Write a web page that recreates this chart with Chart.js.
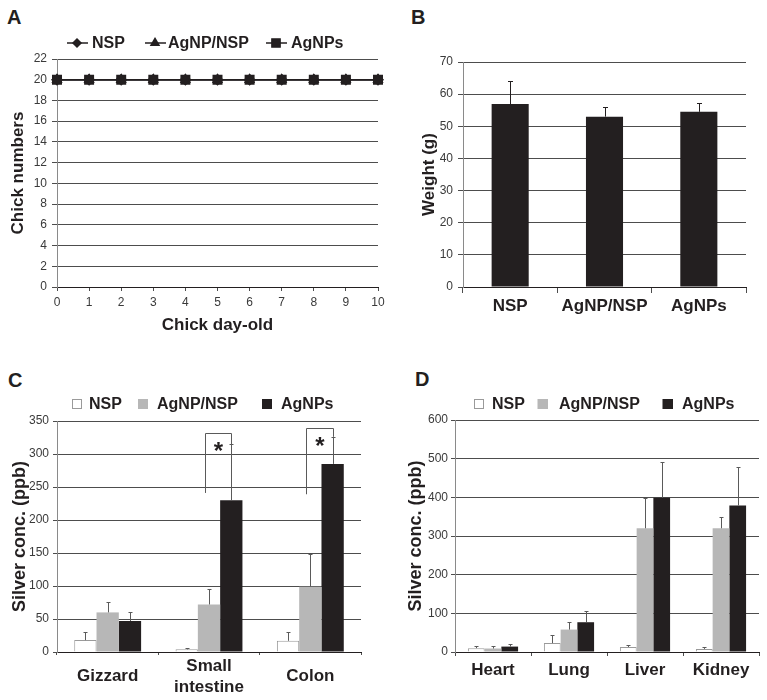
<!DOCTYPE html>
<html><head><meta charset="utf-8">
<script src="https://cdn.jsdelivr.net/npm/chart.js@4"></script>
<style>
body{margin:0;background:#fff;width:767px;height:700px;position:relative;overflow:hidden;font-family:"Liberation Sans",Arial,sans-serif}
canvas{position:absolute}
.lbl{position:absolute;font:bold 20px/20px "Liberation Sans",Arial,sans-serif;color:#231f20}
</style></head><body>
<div class="lbl" style="left:7px;top:7px">A</div>
<div class="lbl" style="left:411px;top:7px">B</div>
<div class="lbl" style="left:8px;top:370px">C</div>
<div class="lbl" style="left:415px;top:369px">D</div>
<canvas id="cA" width="390" height="340" style="left:0;top:0"></canvas>
<canvas id="cB" width="377" height="340" style="left:390px;top:0"></canvas>
<canvas id="cC" width="390" height="360" style="left:0;top:340px"></canvas>
<canvas id="cD" width="377" height="360" style="left:390px;top:340px"></canvas>
<script>
// ---------- data ----------
const seriesNames = ['NSP', 'AgNP/NSP', 'AgNPs'];

// Panel A: chick numbers by day
const days = ['0','1','2','3','4','5','6','7','8','9','10'];
const chicksNSP      = [20,20,20,20,20,20,20,20,20,20,20];
const chicksAgNPNSP  = [20,20,20,20,20,20,20,20,20,20,20];
const chicksAgNPs    = [20,20,20,20,20,20,20,20,20,20,20];
const chickTicksMax = 22;

// Panel B: weight (g)
const weightGroups = ['NSP', 'AgNP/NSP', 'AgNPs'];
const weightMean = [56.9, 53.0, 54.5];
const weightErr  = [7.2, 3.1, 2.7];

// Panel C: GI tract silver (ppb)
const giOrgans = ['Gizzard', ['Small', 'intestine'], 'Colon'];
const giNSP        = [18, 4, 17];
const giNSPErr     = [12, 2, 14];
const giAgNPNSP    = [60, 72, 99];
const giAgNPNSPErr = [16, 24, 49];
const giAgNPs      = [47, 230, 285];
const giAgNPsErr   = [14, 85, 41];
// significance brackets (category index, top value, left leg bottom value)
const sigOrgans     = [1, 2];
const sigTop        = [332, 339];
const sigLeftBottom = [241, 239];
const sigMark = '*';

// Panel D: other organs silver (ppb)
const organs = ['Heart', 'Lung', 'Liver', 'Kidney'];
const orgNSP        = [10, 23, 13, 8];
const orgNSPErr     = [6, 20, 4, 5];
const orgAgNPNSP    = [9, 58, 320, 320];
const orgAgNPNSPErr = [6, 20, 78, 30];
const orgAgNPs      = [14, 77, 399, 379];
const orgAgNPsErr   = [7, 30, 92, 100];

// ---------- styles ----------
const FONT = '"Liberation Sans", Arial, sans-serif';
const INK = '#231f20';
const GREY = '#b7b7b7';
const GRID = '#4d4d4d';
const TICK = '#3a3a3a';
Chart.defaults.font.family = FONT;
Chart.defaults.color = TICK;

// ---------- plugins ----------
const errorBars = {
  id: 'errorBars',
  afterDatasetsDraw(chart, args, opts) {
    const ctx = chart.ctx, ys = chart.scales.y;
    chart.data.datasets.forEach((ds, di) => {
      if (!ds.errors) return;
      const meta = chart.getDatasetMeta(di);
      meta.data.forEach((bar, i) => {
        const v = ds.data[i], e = ds.errors[i];
        const y0 = ys.getPixelForValue(v), y1 = Math.round(ys.getPixelForValue(v + e)) + 0.5;
        const x = Math.round(bar.x) + 0.5;
        ctx.save();
        ctx.strokeStyle = opts.color; ctx.lineWidth = opts.width;
        ctx.beginPath();
        ctx.moveTo(x, y0); ctx.lineTo(x, y1);
        ctx.moveTo(x - opts.cap, y1); ctx.lineTo(x + opts.cap, y1);
        ctx.stroke();
        ctx.restore();
      });
    });
  }
};

const refLegend = {
  id: 'refLegend',
  afterDraw(chart, args, opts) {
    const ctx = chart.ctx;
    ctx.save();
    chart.data.datasets.forEach((ds, i) => {
      const x = opts.xs[i], y = opts.y;
      if (opts.kind === 'line') {
        ctx.strokeStyle = ds.borderColor; ctx.lineWidth = 1.5;
        ctx.beginPath(); ctx.moveTo(x - 10, y); ctx.lineTo(x + 11, y); ctx.stroke();
        ctx.fillStyle = ds.pointBackgroundColor;
        ctx.strokeStyle = ds.pointBorderColor;
        Chart.helpers.drawPoint(ctx, {pointStyle: ds.pointStyle, radius: opts.radius[i], rotation: 0, borderWidth: 1}, x, y);
      } else {
        const s = opts.box;
        ctx.fillStyle = ds.backgroundColor;
        ctx.fillRect(x - s / 2, y - s / 2, s, s);
        ctx.strokeStyle = ds.borderColor; ctx.lineWidth = 1;
        ctx.strokeRect(Math.round(x - s / 2) + 0.5, Math.round(y - s / 2) + 0.5, s - 1, s - 1);
      }
      ctx.fillStyle = INK;
      ctx.font = 'bold 16px ' + FONT;
      ctx.textBaseline = 'middle';
      ctx.textAlign = 'left';
      ctx.fillText(ds.label, opts.tx[i], y + 1);
    });
    ctx.restore();
  }
};

const brackets = {
  id: 'brackets',
  afterDatasetsDraw(chart, args, opts) {
    const ctx = chart.ctx, ys = chart.scales.y;
    const grey = chart.getDatasetMeta(1).data, black = chart.getDatasetMeta(2).data;
    const blackDs = chart.data.datasets[2];
    ctx.save();
    ctx.strokeStyle = opts.color; ctx.lineWidth = 1;
    sigOrgans.forEach((c, k) => {
      const xl = Math.round(grey[c].x - opts.legShift) + 0.5;
      const xr = Math.round(black[c].x) + 0.5;
      const yt = Math.round(ys.getPixelForValue(sigTop[k])) + 0.5;
      const yl = ys.getPixelForValue(sigLeftBottom[k]);
      const yr = ys.getPixelForValue(blackDs.data[c] + blackDs.errors[c]);
      ctx.beginPath();
      ctx.moveTo(xl, yl); ctx.lineTo(xl, yt); ctx.lineTo(xr, yt); ctx.lineTo(xr, yr);
      ctx.stroke();
      ctx.fillStyle = INK;
      ctx.font = 'bold 24px ' + FONT;
      ctx.textAlign = 'center'; ctx.textBaseline = 'alphabetic';
      ctx.fillText(sigMark, (xl + xr) / 2, yt + opts.markDrop);
    });
    ctx.restore();
  }
};

function yAxis(max, step, width, title, titleSize, titlePad, tl, pad) {
  return {
    min: 0, max: max,
    ticks: {stepSize: step, font: {size: 12}, color: TICK, padding: pad},
    grid: {color: GRID, lineWidth: 1, tickLength: tl, drawTicks: true},
    border: {color: '#8a8a8a', width: 1},
    title: {display: true, text: title, color: INK, font: {size: titleSize, weight: 'bold'}, padding: {top: titlePad, bottom: 0}},
    afterFit(s) { s.width = width; }
  };
}

const common = {
  responsive: false, animation: false, devicePixelRatio: 1,
  events: []
};

// ---------- Panel A ----------
new Chart(document.getElementById('cA'), {
  type: 'line',
  data: {
    labels: days,
    datasets: [
      {label: seriesNames[0], data: chicksNSP, borderColor: INK, borderWidth: 1.5, pointStyle: 'rectRot', pointRadius: 5, pointBackgroundColor: INK, pointBorderColor: INK},
      {label: seriesNames[1], data: chicksAgNPNSP, borderColor: INK, borderWidth: 1.5, pointStyle: 'triangle', pointRadius: 5, pointBackgroundColor: INK, pointBorderColor: INK},
      {label: seriesNames[2], data: chicksAgNPs, borderColor: INK, borderWidth: 1.5, pointStyle: 'rect', pointRadius: 6, pointBackgroundColor: INK, pointBorderColor: INK}
    ]
  },
  options: Object.assign({}, common, {
    layout: {padding: {left: 0, right: 12, top: 59, bottom: 0}},
    plugins: {legend: {display: false}, tooltip: {enabled: false},
      refLegend: {kind: 'line', y: 43, xs: [77, 155, 276], tx: [92, 168, 291], radius: [4, 4.6, 5.8]}},
    scales: {
      x: {
        ticks: {font: {size: 12}, color: TICK, padding: 4, maxRotation: 0, autoSkip: false},
        grid: {drawOnChartArea: false, drawTicks: true, tickLength: 4, color: GRID},
        border: {color: INK, width: 1},
        title: {display: true, text: 'Chick day-old', color: INK, font: {size: 17, weight: 'bold'}, padding: {top: 0, bottom: 4}},
        afterFit(s) { s.height = 53; }
      },
      y: yAxis(chickTicksMax, 2, 57, 'Chick numbers', 17, 8, 5, 5)
    }
  }),
  plugins: [refLegend]
});

// ---------- Panel B ----------
new Chart(document.getElementById('cB'), {
  type: 'bar',
  data: {
    labels: weightGroups,
    datasets: [{label: 'Weight', data: weightMean, errors: weightErr, backgroundColor: INK, borderColor: INK, borderWidth: 0,
      categoryPercentage: 1, barPercentage: 0.393}]
  },
  options: Object.assign({}, common, {
    layout: {padding: {left: 0, right: 21, top: 62, bottom: 0}},
    plugins: {legend: {display: false}, tooltip: {enabled: false},
      errorBars: {color: INK, width: 1, cap: 2.5}},
    scales: {
      x: {
        ticks: {font: {size: 17, weight: 'bold'}, color: INK, padding: 3, maxRotation: 0, autoSkip: false},
        grid: {drawOnChartArea: false, drawTicks: true, tickLength: 6, color: GRID, offset: true},
        border: {color: INK, width: 1},
        afterFit(s) { s.height = 53; }
      },
      y: yAxis(70, 10, 73, 'Weight (g)', 17, 29, 5, 5)
    }
  }),
  plugins: [errorBars]
});

// ---------- Panel C ----------
function triple(labels, a, ae, b, be, c, ce) {
  return {
    labels: labels,
    datasets: [
      {label: seriesNames[0], data: a, errors: ae, backgroundColor: '#ffffff', borderColor: '#9a9a9a', borderWidth: 1},
      {label: seriesNames[1], data: b, errors: be, backgroundColor: GREY, borderColor: GREY, borderWidth: 0},
      {label: seriesNames[2], data: c, errors: ce, backgroundColor: INK, borderColor: INK, borderWidth: 0}
    ]
  };
}

new Chart(document.getElementById('cC'), {
  type: 'bar',
  data: triple(giOrgans, giNSP, giNSPErr, giAgNPNSP, giAgNPNSPErr, giAgNPs, giAgNPsErr),
  options: Object.assign({}, common, {
    layout: {padding: {left: 0, right: 29, top: 81, bottom: 0}},
    datasets: {bar: {categoryPercentage: 0.66, barPercentage: 1}},
    plugins: {legend: {display: false}, tooltip: {enabled: false},
      errorBars: {color: '#5a5a5a', width: 1, cap: 2},
      refLegend: {kind: 'box', y: 64, box: 10, xs: [77, 143, 267], tx: [89, 157, 281]},
      brackets: {color: '#5a5a5a', legShift: 4, markDrop: 25}},
    scales: {
      x: {
        ticks: {font: {size: 17, weight: 'bold', lineHeight: 1.25}, color: INK, padding: 11, maxRotation: 0, autoSkip: false, crossAlign: 'center'},
        grid: {drawOnChartArea: false, drawTicks: true, tickLength: 3, color: GRID, offset: true},
        border: {color: INK, width: 1},
        afterFit(s) { s.height = 48; }
      },
      y: yAxis(350, 50, 57, 'Silver conc. (ppb)', 18, 9, 4, 4)
    }
  }),
  plugins: [errorBars, refLegend, brackets]
});

// ---------- Panel D ----------
new Chart(document.getElementById('cD'), {
  type: 'bar',
  data: triple(organs, orgNSP, orgNSPErr, orgAgNPNSP, orgAgNPNSPErr, orgAgNPs, orgAgNPsErr),
  options: Object.assign({}, common, {
    layout: {padding: {left: 0, right: 8, top: 80, bottom: 0}},
    datasets: {bar: {categoryPercentage: 0.66, barPercentage: 1}},
    plugins: {legend: {display: false}, tooltip: {enabled: false},
      errorBars: {color: '#5a5a5a', width: 1, cap: 2},
      refLegend: {kind: 'box', y: 64, box: 10, xs: [88.5, 152.5, 277.5], tx: [102, 169, 292]}},
    scales: {
      x: {
        ticks: {font: {size: 17, weight: 'bold'}, color: INK, padding: 4, maxRotation: 0, autoSkip: false},
        grid: {drawOnChartArea: false, drawTicks: true, tickLength: 4, color: GRID, offset: true},
        border: {color: INK, width: 1},
        afterFit(s) { s.height = 48; }
      },
      y: yAxis(600, 100, 65, 'Silver conc. (ppb)', 18, 15, 4, 3)
    }
  }),
  plugins: [errorBars, refLegend]
});
</script>
</body></html>
